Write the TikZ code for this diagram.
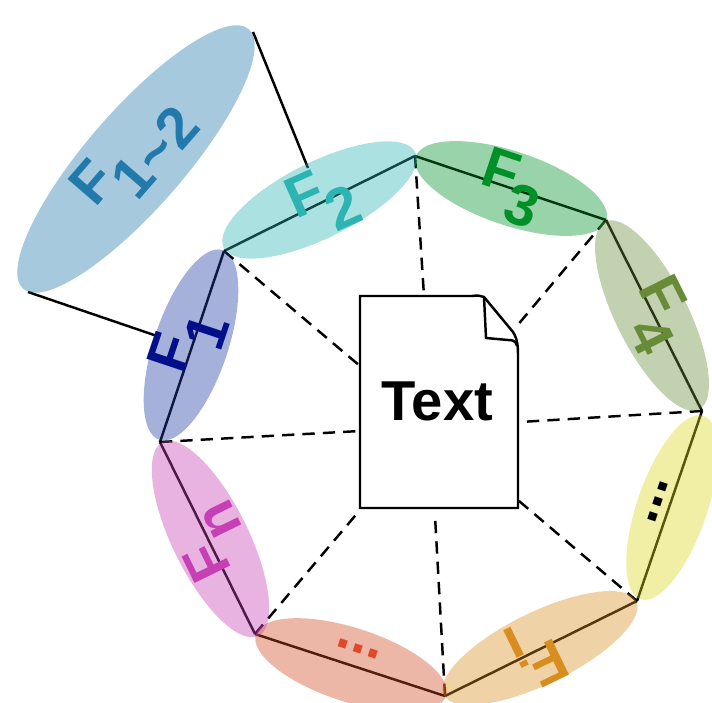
\documentclass[tikz,border=0pt]{standalone}
\usepackage{xcolor}
\usepackage{fontspec}
\setmainfont{Liberation Sans}
\usepackage{tikz}
\usetikzlibrary{shapes.geometric}

\definecolor{cFa}{HTML}{00108A}
\definecolor{cFb}{HTML}{2CB4B2}
\definecolor{cFc}{HTML}{009028}
\definecolor{cFd}{HTML}{678B36}
\definecolor{cFi}{HTML}{D88E1E}
\definecolor{cFn}{HTML}{C63FB4}
\definecolor{cFm}{HTML}{2279AB}
\definecolor{cDr}{HTML}{DE4A28}
\definecolor{pFa}{HTML}{1E3CA2}
\definecolor{pDy}{HTML}{DCD521}
\definecolor{pDr}{HTML}{D04A22}

\newcommand{\flabel}[1]{F\kern-2pt\raisebox{-16pt}{\fontsize{33}{33}\selectfont #1}}

\tikzset{
  petal/.style={ellipse, inner sep=0pt, outer sep=0pt, fill=#1, fill opacity=0.4},
  flab/.style={inner sep=0pt, font=\fontsize{33}{33}\bfseries\selectfont, text=#1},
  dots/.style={inner sep=0pt, font=\fontsize{32}{32}\bfseries\selectfont, text=#1},
  solidline/.style={line width=1.4pt, draw=black},
  dashline/.style={line width=1.4pt, draw=black, dash pattern=on 7pt off 4.6pt},
}

\begin{document}
\begin{tikzpicture}[x=0.02cm, y=-0.02cm]
\useasboundingbox (0, 0) rectangle (712, 702);
\clip (0, 0) rectangle (712, 702);

\coordinate (V1) at (224, 251);
\coordinate (V2) at (415, 156);
\coordinate (V3) at (606, 220);
\coordinate (V4) at (702, 411);
\coordinate (V5) at (637, 601);
\coordinate (V6) at (445, 696);
\coordinate (V7) at (255, 634);
\coordinate (V8) at (160, 442);
\coordinate (D1) at (360, 366);
\coordinate (D2) at (424, 296);
\coordinate (D3) at (516, 327);
\coordinate (D4) at (520, 422);
\coordinate (D5) at (519, 501);
\coordinate (D6) at (435, 516);
\coordinate (D7) at (360, 510);
\coordinate (D8) at (360, 431);
\coordinate (M1) at (253, 32);
\coordinate (M2) at (28, 292);
\coordinate (E1) at (308, 168);
\coordinate (E2) at (157, 336);

\draw [solidline] (V1) to (V2);
\draw [solidline] (V2) to (V3);
\draw [solidline] (V3) to (V4);
\draw [solidline] (V4) to (V5);
\draw [solidline] (V5) to (V6);
\draw [solidline] (V6) to (V7);
\draw [solidline] (V7) to (V8);
\draw [solidline] (V8) to (V1);
\draw [solidline] (M1) to (E1);
\draw [solidline] (M2) to (E2);
\draw [dashline] (V1) to (D1);
\draw [dashline] (V2) to (D2);
\draw [dashline] (V3) to (D3);
\draw [dashline] (V4) to (D4);
\draw [dashline] (V5) to (D5);
\draw [dashline] (V6) to (D6);
\draw [dashline] (V7) to (D7);
\draw [dashline] (V8) to (D8);

\node [petal=cFm, minimum width=6.88cm, minimum height=1.96cm, rotate=49] (PM) at (136, 159) {};
\node [petal=pFa, minimum width=4cm, minimum height=1.48cm, rotate=71.5] (PA) at (191, 345) {};
\node [petal=cFb, minimum width=4.28cm, minimum height=1.52cm, rotate=26.5] (PB) at (319.5, 200) {};
\node [petal=cFc, minimum width=4.02cm, minimum height=1.48cm, rotate=-18.5] (PC) at (511, 188.5) {};
\node [petal=cFd, minimum width=4.2cm, minimum height=1.44cm, rotate=-63.4] (PD) at (652, 315.5) {};
\node [petal=pDy, minimum width=3.88cm, minimum height=1.4cm, rotate=71] (PE) at (672, 507.5) {};
\node [petal=cFi, minimum width=4.28cm, minimum height=1.44cm, rotate=26] (PI) at (540, 648) {};
\node [petal=pDr, minimum width=4cm, minimum height=1.48cm, rotate=-18] (PR) at (351, 665) {};
\node [petal=cFn, minimum width=4.32cm, minimum height=1.52cm, rotate=-63.7] (PN) at (210.5, 539) {};

\node [flab=cFm, rotate=49] (LM) at (134, 155) {\flabel{1\textasciitilde2}};
\node [flab=cFa, rotate=71.5] (LA) at (188, 343) {\flabel{1}};
\node [flab=cFb, rotate=24] (LB) at (323, 201) {\flabel{2}};
\node [flab=cFc, rotate=-18.5] (LC) at (511, 188) {\flabel{3}};
\node [flab=cFd, rotate=-63.4] (LD) at (657, 315) {\flabel{4}};
\node [flab=cFi, rotate=206] (LI) at (536, 653) {\flabel{i}};
\node [flab=cFn, rotate=116] (LN) at (212, 542) {\flabel{n}};
\node [dots=black, rotate=71.5] (LE) at (658, 502) {...};
\node [dots=cDr, rotate=-18] (LR) at (358, 649) {...};

\coordinate (DA) at (360, 296);
\coordinate (DB) at (360, 508);
\coordinate (DC) at (518, 508);
\coordinate (DF) at (484, 297);
\draw [solidline, fill=white] (DA) -- (472, 296) .. controls (478, 295) and (481, 296) .. (DF)
  -- (513, 332) .. controls (518, 340) and (518, 348) .. (518, 357) -- (DC) -- (DB) -- cycle;
\draw [solidline] (DF) -- (486, 338) -- (508, 340) .. controls (513, 340) and (516, 341) .. (517, 346);
\node [inner sep=0pt, font=\fontsize{32}{32}\bfseries\selectfont] (doc) at (437.5, 401) {Text};
\end{tikzpicture}
\end{document}
